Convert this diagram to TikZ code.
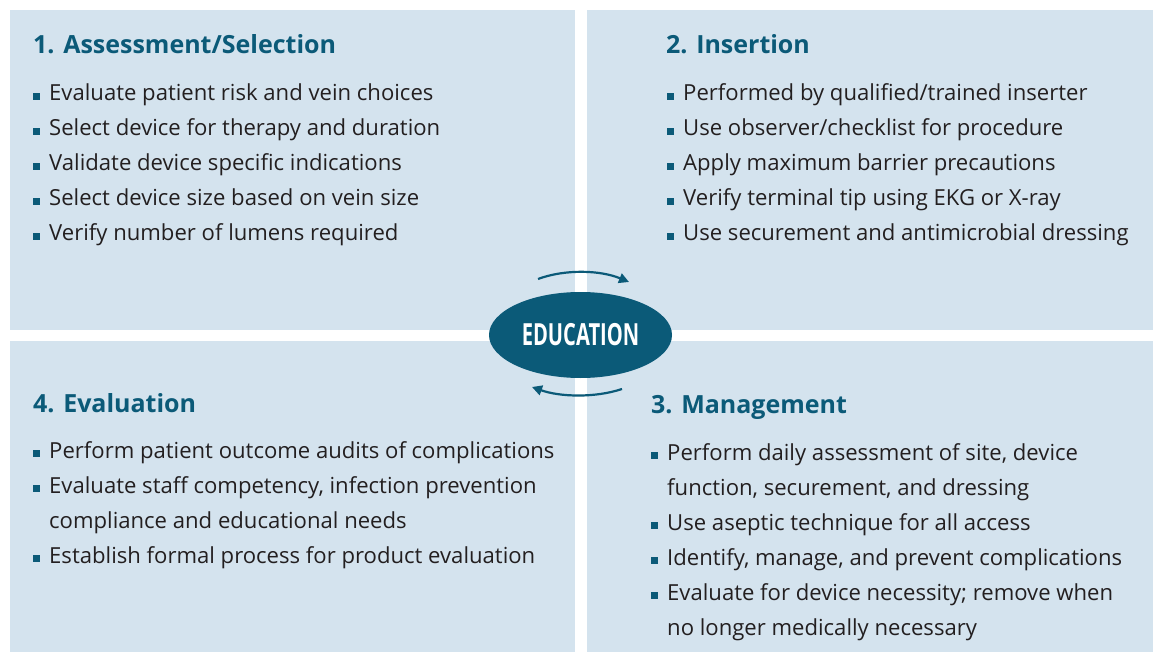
\documentclass[tikz,border=0pt]{standalone}
\usepackage{fontspec}
\setmainfont{Open Sans}
\usetikzlibrary{arrows.meta,shapes.geometric}
\definecolor{panel}{HTML}{D4E3EE}
\definecolor{teal}{HTML}{0B5A78}
\definecolor{ink}{HTML}{231F20}
% square bullet hung to the left of an item
\newcommand\sqbul{\llap{\textcolor{teal}{\rule[0.8pt]{7pt}{7pt}}\hspace{9pt}}}
\begin{document}
\begin{tikzpicture}[x=1pt,y=-1pt,
  ttl/.style={anchor=base west, inner sep=0pt, text=teal,
    font=\fontsize{25}{29}\selectfont\bfseries},
  itm/.style={anchor=base west, inner sep=0pt, text=ink,
    font=\fontsize{22.1}{26}\selectfont},
  cyc/.style={draw=teal, line width=2.2pt,
    -{Triangle[length=10pt,width=10pt]}}]
\useasboundingbox (0,0) rectangle (1153,652);
\fill[white] (0,0) rectangle (1153,652);
% four quadrants
\fill[panel] (10,10) rectangle (575,330);
\fill[panel] (587,10) rectangle (1153,330);
\fill[panel] (10,341) rectangle (575,652);
\fill[panel] (587,341) rectangle (1153,652);

% 1. Assessment/Selection
\node[ttl] (t1) at (33,54) {1. Assessment/Selection};
\node[itm] (a1) at (49,101) {\sqbul Evaluate patient risk and vein choices};
\node[itm] (a2) at (49,136) {\sqbul Select device for therapy and duration};
\node[itm] (a3) at (49,171) {\sqbul Validate device specific indications};
\node[itm] (a4) at (49,206) {\sqbul Select device size based on vein size};
\node[itm] (a5) at (49,241) {\sqbul Verify number of lumens required};

% 2. Insertion
\node[ttl] (t2) at (666,54) {2. Insertion};
\node[itm] (b1) at (683,101) {\sqbul Performed by qualified/trained inserter};
\node[itm] (b2) at (683,136) {\sqbul Use observer/checklist for procedure};
\node[itm] (b3) at (683,171) {\sqbul Apply maximum barrier precautions};
\node[itm] (b4) at (683,206) {\sqbul Verify terminal tip using EKG or X-ray};
\node[itm] (b5) at (683,241) {\sqbul Use securement and antimicrobial dressing};

% 4. Evaluation
\node[ttl] (t4) at (33,412) {4. Evaluation};
\node[itm] (d1) at (49,458) {\sqbul Perform patient outcome audits of complications};
\node[itm] (d2) at (49,493) {\sqbul Evaluate staff competency, infection prevention};
\node[itm] (d2b) at (49,528) {compliance and educational needs};
\node[itm] (d3) at (49,563) {\sqbul Establish formal process for product evaluation};

% 3. Management
\node[ttl] (t3) at (651,413) {3. Management};
\node[itm] (c1) at (667,460) {\sqbul Perform daily assessment of site, device};
\node[itm] (c1b) at (667,495) {function, securement, and dressing};
\node[itm] (c2) at (667,530) {\sqbul Use aseptic technique for all access};
\node[itm] (c3) at (667,565) {\sqbul Identify, manage, and prevent complications};
\node[itm] (c4) at (667,600) {\sqbul Evaluate for device necessity; remove when};
\node[itm] (c4b) at (667,635) {no longer medically necessary};

% central hub
\node[ellipse, fill=teal, inner sep=0pt, minimum width=183pt, minimum height=86pt,
  text=white, font=\fontsize{30.5}{34}\selectfont\bfseries] (edu) at (580.5,335)
  {\scalebox{0.66}[1]{EDUCATION}};

% cycle arrows around the hub
\coordinate (u1) at (538,279);
\coordinate (u2) at (629,282);
\coordinate (l1) at (622,389);
\coordinate (l2) at (532,387);
\draw[cyc] (u1) .. controls (565,269) and (600,270) .. (u2);
\draw[cyc] (l1) .. controls (595,398) and (560,397) .. (l2);
\end{tikzpicture}
\end{document}
